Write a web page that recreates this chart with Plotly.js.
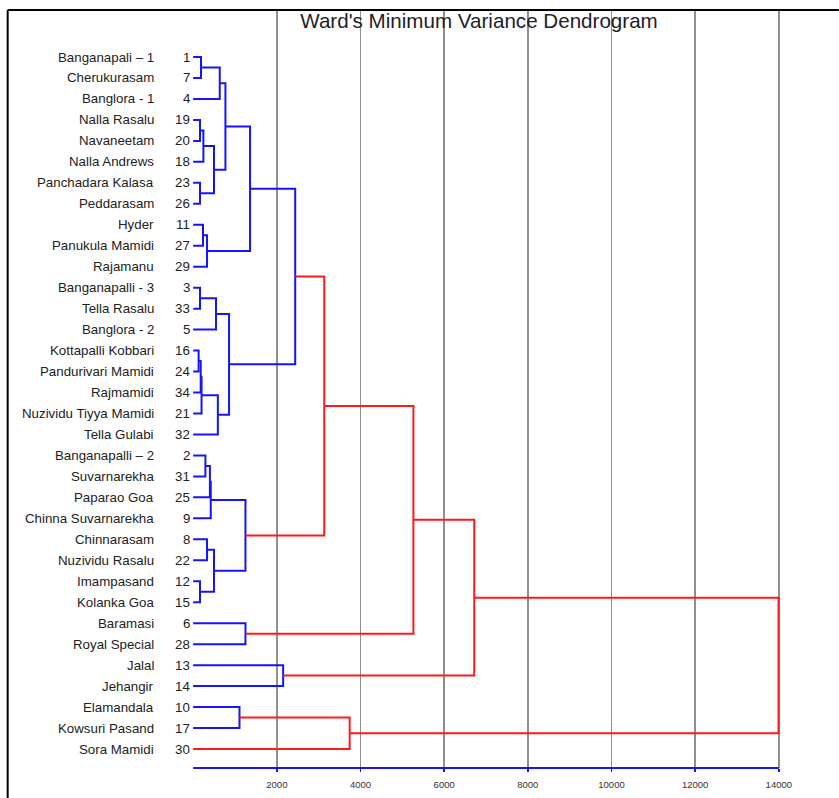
<!DOCTYPE html>
<html>
<head>
<meta charset="utf-8">
<script src="https://cdn.plot.ly/plotly-3.0.1.min.js"></script>
<style>html,body{margin:0;padding:0;background:#fff;}#chart{width:839px;height:798px;}</style>
</head>
<body>
<div id="chart"></div>
<script>
// ---- DATA ----
const leafNames = [
  "Banganapali \u2013 1","Cherukurasam","Banglora - 1","Nalla Rasalu","Navaneetam",
  "Nalla Andrews","Panchadara Kalasa","Peddarasam","Hyder","Panukula Mamidi",
  "Rajamanu","Banganapalli - 3","Tella Rasalu","Banglora - 2","Kottapalli Kobbari",
  "Pandurivari Mamidi","Rajmamidi","Nuzividu Tiyya Mamidi","Tella Gulabi","Banganapalli \u2013 2",
  "Suvarnarekha","Paparao Goa","Chinna Suvarnarekha","Chinnarasam","Nuzividu Rasalu",
  "Imampasand","Kolanka Goa","Baramasi","Royal Special","Jalal",
  "Jehangir","Elamandala","Kowsuri Pasand","Sora Mamidi"
];
const leafIds = [1,7,4,19,20,18,23,26,11,27,29,3,33,5,16,24,34,21,32,2,31,25,9,8,22,12,15,6,28,13,14,10,17,30];

// merges: child indices (<34 = leaf in display order, >=34 = earlier merge 34+k) and height
const mergeLeft   = [0, 34, 3, 36, 6, 37, 35, 8, 41, 40, 11, 44, 14, 46, 47, 48, 45, 43, 19, 52, 53, 23, 25, 55, 54, 51, 27, 59, 29, 61, 31, 64, 63];
const mergeRight  = [1, 2, 4, 5, 7, 38, 39, 9, 10, 42, 12, 13, 15, 16, 17, 18, 49, 50, 20, 21, 22, 24, 26, 56, 57, 58, 28, 60, 30, 62, 32, 33, 65];
const mergeHeight = [187, 635, 163, 244, 163, 498, 771, 235, 331, 1360, 163, 546, 130, 180, 200, 590, 858, 2439, 292, 400, 420, 331, 163, 498, 1250, 3133, 1250, 5265, 2151, 6719, 1107, 3741, 13993];
const colorThreshold = 3000;

const xTickVals = [2000, 4000, 6000, 8000, 10000, 12000, 14000];
const xTickText = ["2000", "4000", "6000", "8000", "10000", "12000", "14000"];
const titleText = "Ward's Minimum Variance Dendrogram";

// ---- BUILD DENDROGRAM PATHS ----
const nLeaf = leafNames.length;
const nodeY = [], nodeH = [];
for (let i = 0; i < nLeaf; i++) { nodeY.push(i); nodeH.push(0); }
const blue = {x: [], y: []}, red = {x: [], y: []};
for (let k = 0; k < mergeHeight.length; k++) {
  const a = mergeLeft[k], b = mergeRight[k], h = mergeHeight[k];
  const tgt = h >= colorThreshold ? red : blue;
  tgt.x.push(nodeH[a], h, h, nodeH[b], null);
  tgt.y.push(nodeY[a], nodeY[a], nodeY[b], nodeY[b], null);
  nodeY.push((nodeY[a] + nodeY[b]) / 2);
  nodeH.push(h);
}

// ---- LAYOUT GEOMETRY ----
const W = 839, H = 798;
const ml = 189.3, mr = 55.8, mt = 10, mb = 30;
const pw = W - ml - mr, ph = H - mt - mb;
const pxX = p => (p - ml) / pw;
const pxY = p => (H - mb - p) / ph;

const labelFont = {family: "Liberation Sans, Arial, sans-serif", size: 13.3, color: "#222"};
const annotations = [];
for (let i = 0; i < nLeaf; i++) {
  annotations.push({x: 0, y: i, xref: 'x', yref: 'y', text: leafNames[i], showarrow: false,
    xanchor: 'right', yanchor: 'middle', xshift: -37.5, font: labelFont});
  annotations.push({x: 0, y: i, xref: 'x', yref: 'y', text: String(leafIds[i]), showarrow: false,
    xanchor: 'right', yanchor: 'middle', xshift: -1, font: labelFont});
}

const traces = [
  {type: 'scatter', mode: 'lines', x: blue.x, y: blue.y, line: {color: 'rgb(20,20,255)', width: 2}, hoverinfo: 'skip', connectgaps: false},
  {type: 'scatter', mode: 'lines', x: red.x, y: red.y, line: {color: 'rgb(255,25,25)', width: 2}, hoverinfo: 'skip', connectgaps: false}
];

const layout = {
  width: W, height: H,
  margin: {l: ml, r: mr, t: mt, b: mb, pad: 0},
  paper_bgcolor: '#fff', plot_bgcolor: '#fff',
  showlegend: false,
  hovermode: false,
  title: {text: titleText, x: 479 / W, xanchor: 'center', y: 1 - 21 / H, yanchor: 'middle',
    font: {family: "Liberation Sans, Arial, sans-serif", size: 20.6, color: '#1e1e2a'}},
  xaxis: {range: [-100, 14100], tickvals: xTickVals, ticktext: xTickText, showgrid: true, gridcolor: '#8f8f8f', gridwidth: 1.7,
    zeroline: false, showline: false, ticks: 'outside', ticklen: 3, tickwidth: 1.5, tickcolor: 'rgb(20,20,255)',
    ticklabelstandoff: 5,
    tickfont: {family: "Liberation Sans, Arial, sans-serif", size: 9.5, color: '#333'}, fixedrange: true},
  yaxis: {range: [ (H - mb - 57) / 20.97, (mt - 57) / 20.97 ], visible: false, showgrid: false, zeroline: false, fixedrange: true},
  annotations: annotations,
  shapes: [
    {type: 'line', xref: 'x', yref: 'paper', x0: 0, x1: 14000, y0: 0, y1: 0, line: {color: 'rgb(20,20,255)', width: 2}, layer: 'above'},
    {type: 'line', xref: 'paper', yref: 'paper', x0: pxX(8), x1: pxX(8), y0: pxY(10), y1: pxY(H), line: {color: '#000', width: 2}},
    {type: 'line', xref: 'paper', yref: 'paper', x0: pxX(8), x1: pxX(W), y0: pxY(10), y1: pxY(10), line: {color: '#000', width: 2}}
  ]
};

Plotly.newPlot('chart', traces, layout, {displayModeBar: false, staticPlot: true});
</script>
</body>
</html>
